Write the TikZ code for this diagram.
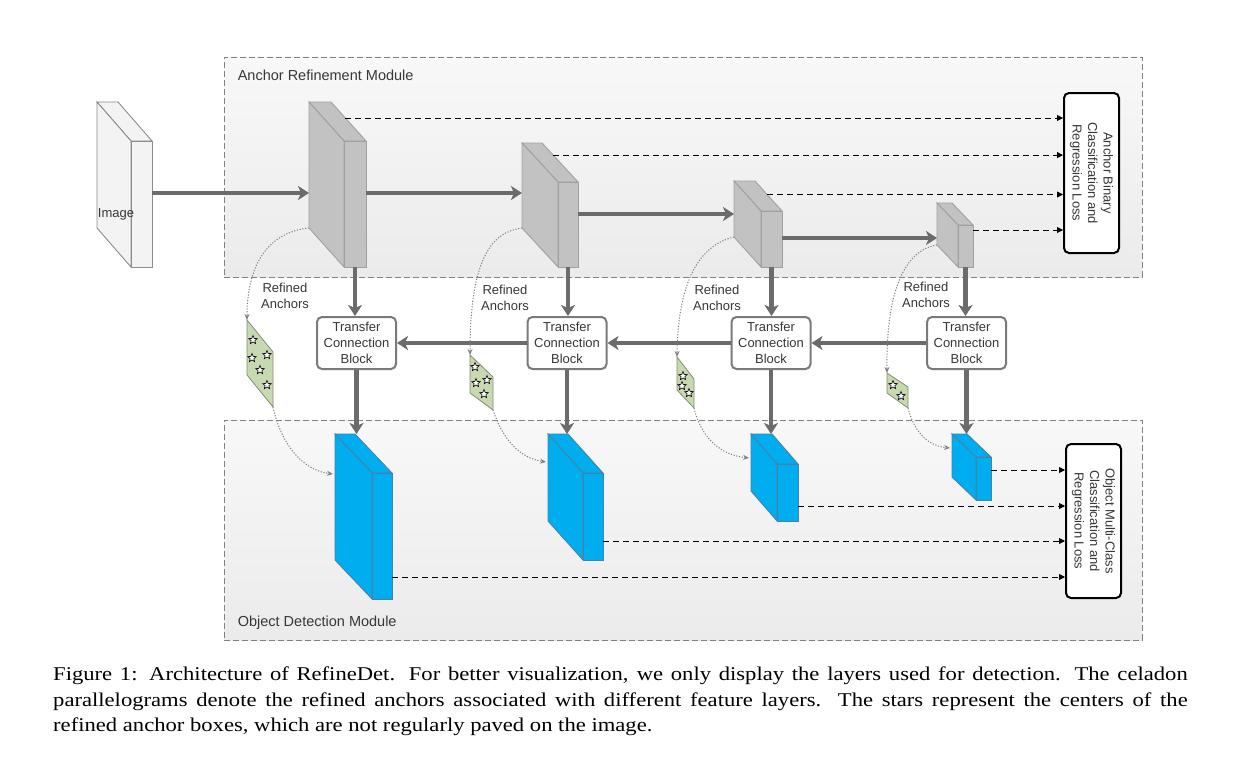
\documentclass[tikz,border=0pt]{standalone}
\usepackage{fontspec}
\setmainfont{Liberation Serif}
\newfontfamily\arial{Liberation Sans}
\usetikzlibrary{arrows.meta,shapes.geometric,calc}
\definecolor{arrowgray}{RGB}{107,107,107}
\definecolor{txtgray}{RGB}{55,55,55}
\definecolor{blockgray}{RGB}{194,194,194}
\definecolor{blockedge}{RGB}{160,160,160}
\definecolor{imgfill}{RGB}{243,243,243}
\definecolor{imgedge}{RGB}{140,140,140}
\definecolor{cyanfill}{RGB}{0,174,239}
\definecolor{cyanedge}{RGB}{70,130,170}
\definecolor{celadon}{RGB}{200,216,176}
\definecolor{celedge}{RGB}{130,140,120}
\definecolor{modtop}{RGB}{248,248,248}
\definecolor{modbot}{RGB}{235,235,235}
\definecolor{dashgray}{RGB}{130,130,130}

\newcommand\cuboid[8]{%
  \coordinate (#1-bt) at ({#2-#6},{#3-#7});
  \coordinate (#1-tr) at ({#2-#6+#4},{#3-#7});
  \coordinate (#1-bb) at ({#2-#6},{#3+#5-#7});
  \coordinate (#1-ft) at (#2,#3);
  \coordinate (#1-fb) at (#2,{#3+#5});
  \coordinate (#1-fr) at ({#2+#4},#3);
  \draw[#8] (#1-bt) -- (#1-tr) -- (#1-fr) -- (#1-ft) -- cycle;
  \draw[#8] (#1-bt) -- (#1-ft) -- (#1-fb) -- (#1-bb) -- cycle;
  \node[#8, anchor=north west, minimum width=#4pt, minimum height=#5pt, inner sep=0pt, outer sep=0pt] (#1) at (#1-ft) {};
}

\begin{document}
\begin{tikzpicture}[x=1pt,y=-1pt,
  modbox/.style={draw=dashgray, dash pattern=on 6pt off 3pt, line width=0.8pt, top color=modtop, bottom color=modbot, minimum width=918pt, minimum height=220pt, inner sep=0pt},
  modlabel/.style={font=\arial\fontsize{14.5}{16}\selectfont, text=txtgray, anchor=west, inner sep=0pt},
  graybox/.style={fill=blockgray, draw=blockedge, line width=0.9pt},
  imgbox/.style={fill=imgfill, draw=imgedge, line width=0.9pt},
  cyanbox/.style={fill=cyanfill, draw=cyanedge, line width=0.9pt},
  flow/.style={draw=arrowgray, line width=4.5pt, -{Stealth[length=11pt,width=14pt,inset=3pt]}},
  tcb/.style={draw=arrowgray!90, line width=2pt, rounded corners=5pt, fill=white, minimum width=79pt, minimum height=52pt, align=center, font=\arial\fontsize{13}{16}\selectfont, text=txtgray, inner sep=0pt},
  loss/.style={draw=black, line width=2pt, rounded corners=5pt, fill=white, align=center, font=\arial\fontsize{13}{15.5}\selectfont, text=txtgray, inner sep=0pt, rotate=-90},
  lossarrow/.style={draw=black, dash pattern=on 6pt off 4pt, line width=0.9pt, -{Triangle[length=6pt,width=6pt]}},
  anchorarrow/.style={draw=arrowgray!85, line width=1pt, dash pattern=on 1.2pt off 1.6pt, -{Stealth[length=6pt,width=5pt]}},
  ralabel/.style={font=\arial\fontsize{13}{16}\selectfont, text=txtgray, align=center, inner sep=0pt},
  para/.style={fill=celadon, draw=celedge, line width=0.8pt},
  starnode/.style={star, star points=5, star point ratio=2.3, draw=black, fill=white, line width=0.6pt, minimum size=9pt, inner sep=0pt},
]
\fill[white] (0,0) rectangle (1247,768);
\useasboundingbox (0,0) rectangle (1247,768);

% modules
\node[modbox] (arm) at (683,167) {};
\node[modbox] (odm) at (683,530) {};
\node[modlabel] (armlab) at ([xshift=14pt,yshift=-19pt]arm.north west) {Anchor Refinement Module};
\node[modlabel] (odmlab) at ([xshift=14pt,yshift=18pt]odm.south west) {Object Detection Module};

% image block
\cuboid{img}{131}{141}{21}{126}{34}{39}{imgbox}
\node[font=\arial\fontsize{13}{16}\selectfont, text=txtgray, inner sep=0pt] (imglab) at (116,214) {Image};

% gray blocks
\cuboid{g1}{344}{141}{22}{126}{35}{39}{graybox}
\cuboid{g2}{558}{182}{20}{85}{36}{39}{graybox}
\cuboid{g3}{761}{211}{21}{56}{27}{30}{graybox}
\cuboid{g4}{958}{225}{15}{42}{21}{22}{graybox}

% cyan blocks
\cuboid{c1}{372}{473}{20}{126}{37}{39}{cyanbox}
\cuboid{c2}{583}{473}{20}{87}{35}{39}{cyanbox}
\cuboid{c3}{777}{464}{21}{57}{26}{30}{cyanbox}
\cuboid{c4}{976}{457}{15}{43}{24}{23}{cyanbox}

% transfer connection blocks
\node[tcb] (t1) at (356.5,343) {Transfer\\Connection\\Block};
\node[tcb] (t2) at (567,343) {Transfer\\Connection\\Block};
\node[tcb] (t3) at (771,343) {Transfer\\Connection\\Block};
\node[tcb] (t4) at (966.5,343) {Transfer\\Connection\\Block};

% loss boxes
\node[loss, minimum width=160pt, minimum height=55pt] (lb1) at (1091.5,173) {Anchor Binary\\Classification and\\Regression Loss};
\node[loss, minimum width=154pt, minimum height=55pt] (lb2) at (1093.5,521) {Object Multi-Class\\Classification and\\Regression Loss};

% main flow arrows
\coordinate (a0) at ([yshift=11pt]img.east);
\coordinate (a1) at ([yshift=11pt]g1.east);
\coordinate (a2) at ([yshift=10.5pt]g2.east);
\coordinate (a3) at ([yshift=1pt]g3.east);
\draw[flow] (a0) -- (a0 -| g1-bt);
\draw[flow] (a1) -- (a1 -| g2-bt);
\draw[flow] (a2) -- (a2 -| g3-bt);
\draw[flow] (a3) -- (a3 -| g4-bt);

\draw[flow] (g1.south) -- (g1.south |- t1.north);
\draw[flow] (g2.south) -- (g2.south |- t2.north);
\draw[flow] (g3.south) -- (g3.south |- t3.north);
\draw[flow] (g4.south) -- (g4.south |- t4.north);

\draw[flow] (t4.west) -- (t3.east);
\draw[flow] (t3.west) -- (t2.east);
\draw[flow] (t2.west) -- (t1.east);

\draw[flow] (t1.south) -- (t1.south |- c1-bt);
\draw[flow] (t2.south) -- (t2.south |- c2-bt);
\draw[flow] (t3.south) -- (t3.south |- c3-bt);
\draw[flow] (t4.south) -- (t4.south |- c4-bt);

% dashed arrows to loss boxes
\coordinate (d1) at ($(g1-tr)!0.41!(g1.north east)$);
\coordinate (d2) at ($(g2-tr)!0.31!(g2.north east)$);
\coordinate (d3) at ($(g3-tr)!0.45!(g3.north east)$);
\coordinate (d4) at ([yshift=-5pt]g4.north east);
\draw[lossarrow] (d1) -- (d1 -| lb1.south);
\draw[lossarrow] (d2) -- (d2 -| lb1.south);
\draw[lossarrow] (d3) -- (d3 -| lb1.south);
\draw[lossarrow] (d4) -- (d4 -| lb1.south);

\coordinate (e4) at ([yshift=-13pt]c4.north east);
\coordinate (e3) at ([yshift=-42pt]c3.north east);
\coordinate (e2) at ([yshift=-68pt]c2.north east);
\coordinate (e1) at ([yshift=-104pt]c1.north east);
\draw[lossarrow] (e4) -- (e4 -| lb2.south);
\draw[lossarrow] (e3) -- (e3 -| lb2.south);
\draw[lossarrow] (e2) -- (e2 -| lb2.south);
\draw[lossarrow] (e1) -- (e1 -| lb2.south);

% parallelograms
\draw[para] (247,320) coordinate (p1t) -- (273,352) -- (273,407) coordinate (p1b) -- (247,375) -- cycle;
\draw[para] (470,355) coordinate (p2t) -- (493,377) -- (493,410) coordinate (p2b) -- (470,393) -- cycle;
\draw[para] (677,357) coordinate (p3t) -- (694,379) -- (694,408) coordinate (p3b) -- (677,390) -- cycle;
\draw[para] (887,373) coordinate (p4t) -- (908,387) -- (908,408) coordinate (p4b) -- (887,393) -- cycle;

% stars
\node[starnode] (s11) at (253,340) {};
\node[starnode] (s12) at (252,358) {};
\node[starnode] (s13) at (267,355) {};
\node[starnode] (s14) at (260,370) {};
\node[starnode] (s15) at (267,385) {};
\node[starnode] (s21) at (475,367) {};
\node[starnode] (s22) at (476,383) {};
\node[starnode] (s23) at (487,380) {};
\node[starnode] (s24) at (484,394) {};
\node[starnode] (s31) at (683,376) {};
\node[starnode] (s32) at (682,386) {};
\node[starnode] (s33) at (689,393) {};
\node[starnode] (s41) at (893,385) {};
\node[starnode] (s42) at (901,396) {};

% refined anchors
\node[ralabel] (ra1) at (285,296) {Refined\\Anchors};
\node[ralabel] (ra2) at (505,298) {Refined\\Anchors};
\node[ralabel] (ra3) at (717,298) {Refined\\Anchors};
\node[ralabel] (ra4) at (926,295) {Refined\\Anchors};

\draw[anchorarrow] (g1-bb) .. controls (270,232) and (247,262) .. (p1t);
\draw[anchorarrow] (g2-bb) .. controls (490,232) and (470,262) .. (p2t);
\draw[anchorarrow] (g3-bb) .. controls (700,245) and (678,280) .. (p3t);
\draw[anchorarrow] (g4-bb) .. controls (905,250) and (886,290) .. (p4t);

\draw[anchorarrow] (p1b) .. controls (280,440) and (300,470) .. ([xshift=-2pt,yshift=-40pt]c1-bt);
\draw[anchorarrow] (p2b) .. controls (503,440) and (520,458) .. ([xshift=-2pt,yshift=-28pt]c2-bt);
\draw[anchorarrow] (p3b) .. controls (702,440) and (722,455) .. ([xshift=-2pt,yshift=-24pt]c3-bt);
\draw[anchorarrow] (p4b) .. controls (915,435) and (930,446) .. ([xshift=-2pt,yshift=-14pt]c4-bt);

% caption
\node[anchor=north west, inner sep=0pt] (cap) at (53,667) {\scalebox{1.16}[1]{\parbox{978pt}{\fontsize{19.5}{25.5}\selectfont\noindent Figure 1: Architecture of RefineDet. For better visualization, we only display the layers used for detection. The celadon\linebreak parallelograms denote the refined anchors associated with different feature layers. The stars represent the centers of the\linebreak refined anchor boxes, which are not regularly paved on the image.}}};
\end{tikzpicture}
\end{document}
